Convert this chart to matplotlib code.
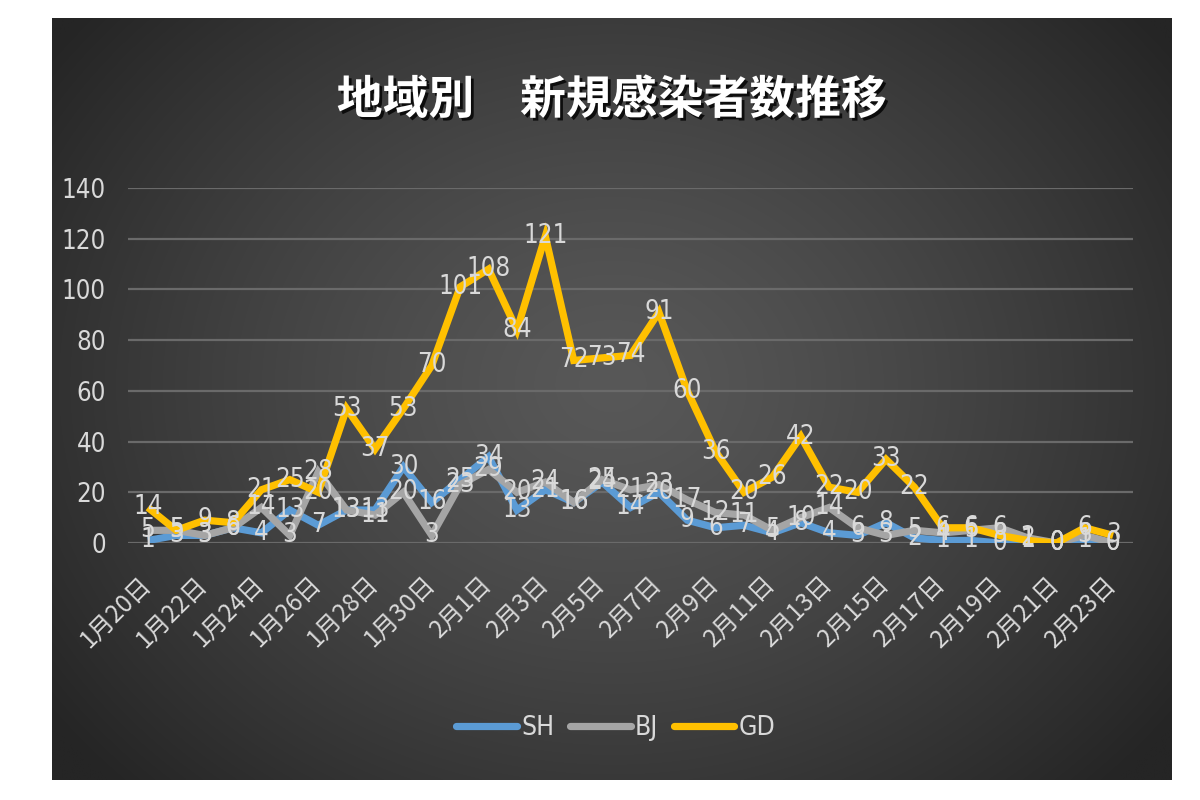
import matplotlib
matplotlib.use("Agg")
import matplotlib.pyplot as plt
import numpy as np
import matplotlib.patheffects as pe
import matplotlib.transforms as mtrans
from matplotlib import font_manager

plt.rcParams['font.family'] = ['Noto Sans CJK JP', 'DejaVu Sans']

dates = (["1月%d日" % d for d in range(20, 32)] +
         ["2月%d日" % d for d in range(1, 24)])
SH = [1, 3, 3, 6, 4, 13, 7, 13, 13, 30, 16, 25, 34, 13, 21, 16, 24, 14, 20, 9,
      6, 7, 4, 8, 4, 3, 8, 2, 1, 1, 0, 1, 0, 1, 0]
BJ = [5, 5, 3, 6, 14, 3, 28, 13, 11, 20, 3, 23, 29, 20, 24, 16, 25, 21, 23, 17,
      12, 11, 5, 10, 14, 6, 3, 5, 4, 5, 6, 2, 0, 3, 0]
GD = [14, 5, 9, 8, 21, 25, 20, 53, 37, 53, 70, 101, 108, 84, 121, 72, 73, 74, 91, 60,
      36, 20, 26, 42, 22, 20, 33, 22, 6, 6, 3, 1, 0, 6, 3]
series_names = ["SH", "BJ", "GD"]
series_colors = ["#5B9BD5", "#A5A5A5", "#FFC000"]
title = "地域別　新規感染者数推移"

# pick a condensed font file if any is installed
cond_path = None
for f in font_manager.fontManager.ttflist:
    if 'Condensed' in f.fname and 'Bold' not in f.fname and 'Oblique' not in f.fname \
            and 'Mono' not in f.fname and 'Serif' not in f.fname:
        cond_path = f.fname
        break
for f in font_manager.fontManager.ttflist:
    if f.name == 'Liberation Sans Narrow' and f.weight in (400, 'normal') and f.style == 'normal':
        cond_path = f.fname
        break


def nprop(size):
    if cond_path:
        return font_manager.FontProperties(fname=cond_path, size=size)
    return font_manager.FontProperties(family='DejaVu Sans', size=size)


fig = plt.figure(figsize=(12, 8), dpi=100)
fig.patch.set_facecolor("white")

# background panel with radial gradient
bg = fig.add_axes([52/1200, 20/800, 1120/1200, 762/800], zorder=0)
ny, nx = 400, 600
yy, xx = np.mgrid[0:ny, 0:nx]
cx, cy = nx * 0.5, ny * 0.48
r = np.sqrt(((xx - cx) / (nx * 0.62)) ** 2 + ((yy - cy) / (ny * 0.75)) ** 2)
r = np.clip(r, 0, 1)
inner, outer = 0x58 / 255, 0x25 / 255
val = inner + (outer - inner) * r ** 1.3
img = np.dstack([val, val, val])
bg.imshow(img, aspect='auto', extent=[0, 1, 0, 1], interpolation='bilinear')
bg.set_axis_off()

ax = fig.add_axes([128/1200, 1 - 543/800, (1133 - 128)/1200, (543 - 188)/800], zorder=1)
ax.set_facecolor("none")
x = np.arange(len(dates))
for vals, name, col in zip([SH, BJ, GD], series_names, series_colors):
    ax.plot(x, vals, color=col, lw=5.2, label=name, solid_joinstyle='miter',
            solid_capstyle='butt', zorder=3)
for vals in [SH, BJ, GD]:
    for xi, v in zip(x, vals):
        ax.text(xi, v, str(v), ha='center', va='center', fontproperties=nprop(18.5),
                color='#D9D9D9', zorder=5)

ax.set_xlim(-0.7, len(dates) - 0.3)
ax.set_ylim(0, 140)
ax.set_yticks(range(0, 141, 20))
ax.grid(axis='y', color='#6A6A6A', lw=1.6)
ax.set_axisbelow(True)
for s in ax.spines.values():
    s.set_visible(False)
ax.tick_params(axis='both', length=0, colors='#D9D9D9')
for lab in ax.get_yticklabels():
    lab.set_fontproperties(nprop(18.5))
ax.tick_params(axis='y', pad=16)
ax.set_xticks(x[::2])
ax.set_xticklabels(dates[::2], rotation=45, ha='right', rotation_mode='anchor',
                   fontsize=17.5, color='#D9D9D9')
ax.tick_params(axis='x', pad=20)
shift = mtrans.ScaledTranslation(-10/100, 0, fig.dpi_scale_trans)
for lab in ax.get_xticklabels():
    lab.set_transform(lab.get_transform() + shift)

fig.text(0.51, 0.874, title, ha='center', va='center', fontsize=33,
         fontweight='bold', color='white',
         path_effects=[pe.withSimplePatchShadow(offset=(2, -2), shadow_rgbFace='black', alpha=0.8)])

leg = fig.legend(loc='center', bbox_to_anchor=(0.513, 0.09), ncol=3, frameon=False,
                 handlelength=2.3, columnspacing=0.6, handletextpad=0.15,
                 prop=nprop(19))
for t in leg.get_texts():
    t.set_color('#D9D9D9')
for ln in leg.get_lines():
    ln.set_solid_capstyle('round')

fig.savefig("out.png", dpi=100, facecolor=fig.get_facecolor())
